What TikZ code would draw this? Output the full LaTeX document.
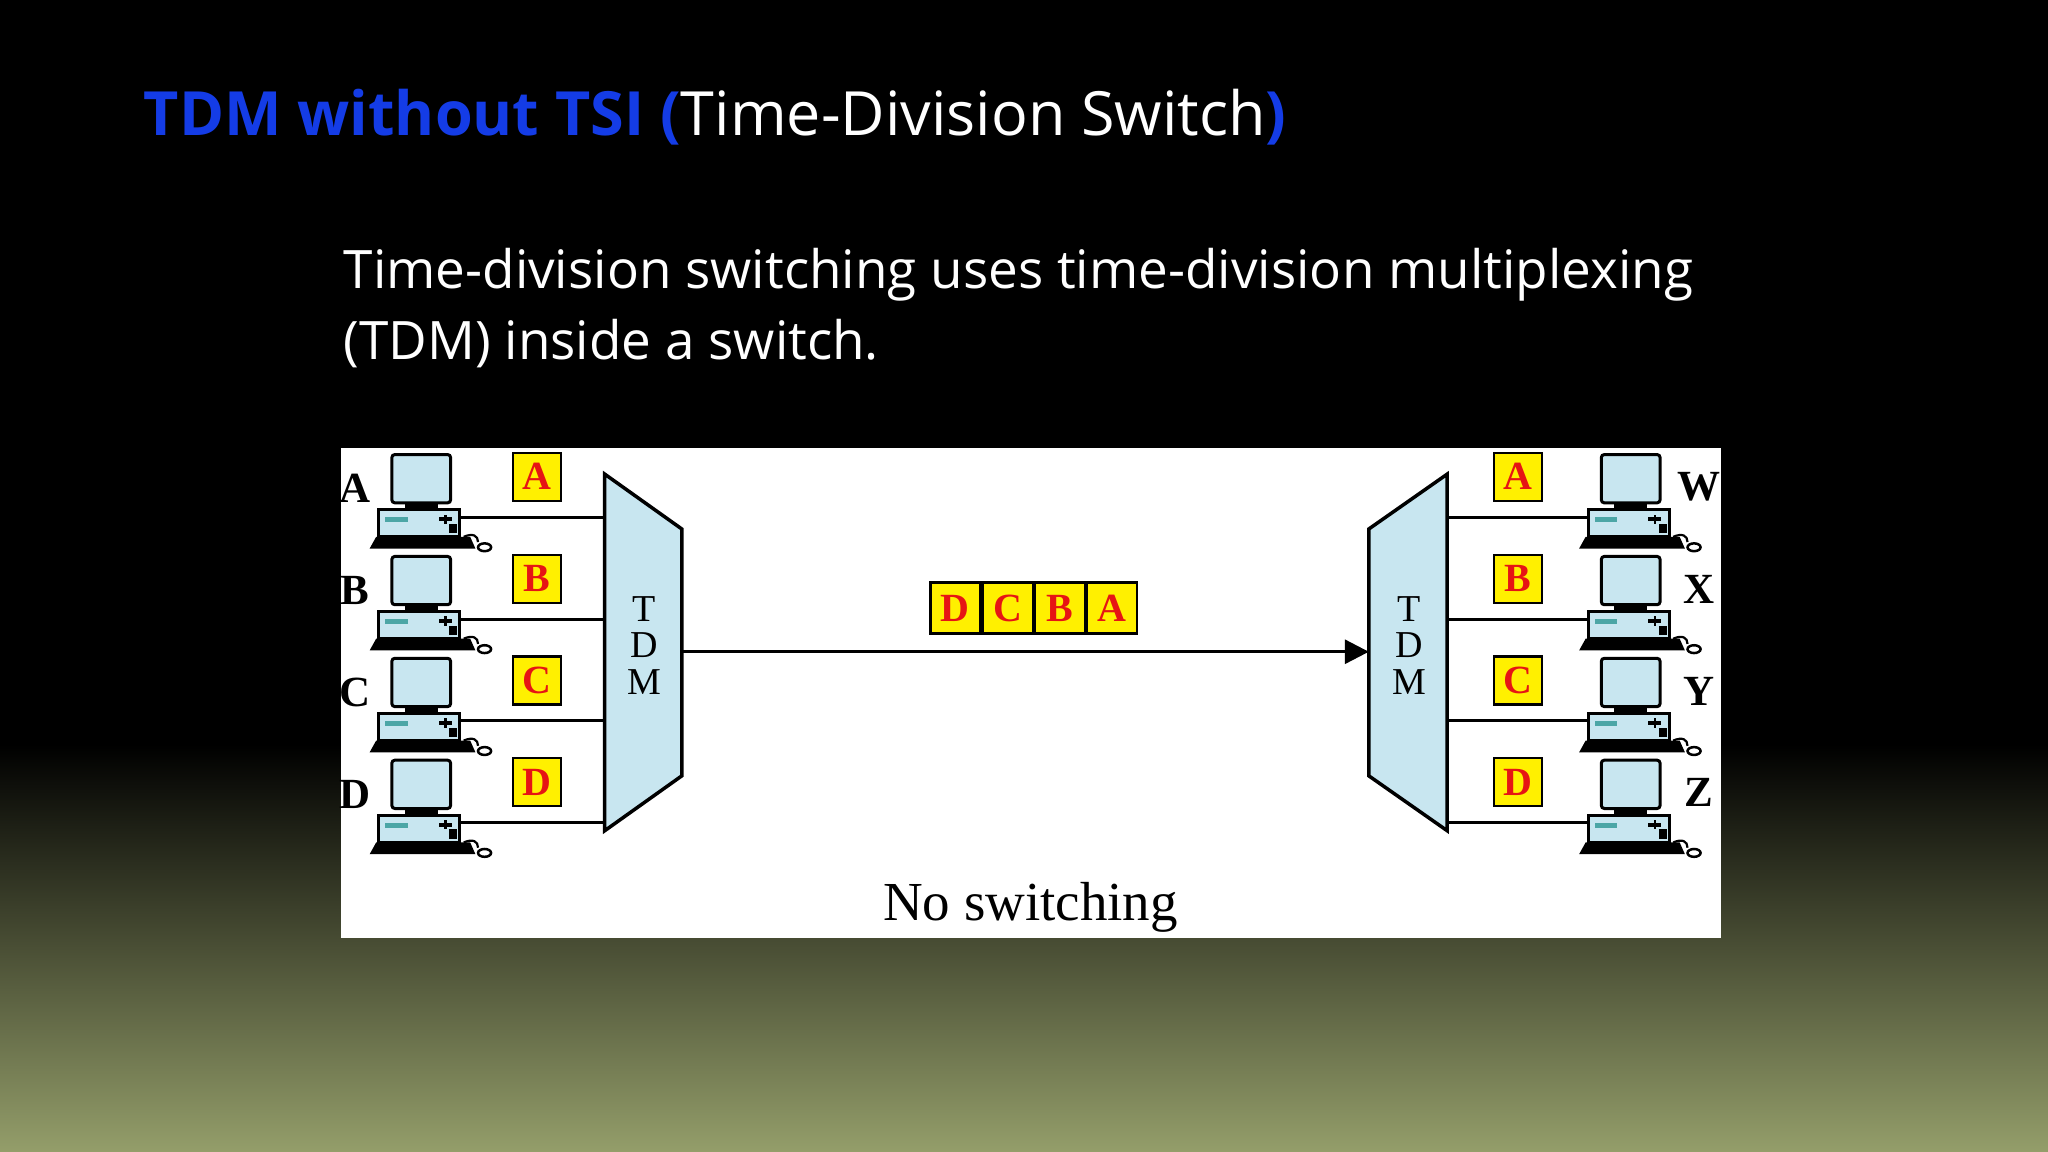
\documentclass[tikz,border=0pt]{standalone}
\usepackage{fontspec}
\setmainfont{Liberation Serif}
\newfontfamily\slidefont{Open Sans}
\usetikzlibrary{arrows.meta}
\definecolor{titleblue}{RGB}{20,60,230}
\definecolor{lblue}{RGB}{200,230,240}
\definecolor{olive}{RGB}{148,158,106}
\definecolor{boxyellow}{RGB}{255,240,0}
\definecolor{boxred}{RGB}{230,20,20}
\tikzset{
  pcbody/.style={draw=black,line width=3pt,fill=lblue},
  lettbox/.style={draw=black,line width=2.2pt,fill=boxyellow,text=boxred,font=\fontsize{40}{42}\selectfont\bfseries,minimum width=48pt,minimum height=48pt,inner sep=0pt},
  pkt/.style={draw=black,line width=2.2pt,fill=boxyellow,text=boxred,font=\fontsize{40}{42}\selectfont\bfseries,minimum width=50pt,minimum height=51pt,inner sep=0pt},
  plabel/.style={font=\fontsize{43}{45}\selectfont\bfseries,inner sep=0pt},
  muxtxt/.style={font=\fontsize{38}{40}\selectfont,inner sep=0pt},
  wire/.style={line width=3pt},
  mux/.style={draw=black,line width=3.5pt,fill=lblue},
  pics/computer/.style={code={
    \draw[pcbody,rounded corners=3pt] (0,0) rectangle (45,37);
    \fill[black] (10,37) rectangle (35,42);
    \draw[pcbody] (-10,42) rectangle (52,63);
    \fill[teal!70] (-5,48) rectangle (12,52);
    \fill[black] (36,48) rectangle (46,51);
    \fill[black] (40,46) rectangle (42,53);
    \fill[black] (44,53) rectangle (50,60);
    \fill[black] (-12,63) -- (60,63) -- (64,72) -- (-17,72) -- cycle;
    \draw[line width=2.2pt] (55,63) .. controls (62,60) and (66,62) .. (66,67);
    \draw[line width=2.5pt] (71,71) ellipse (5 and 3);
  }}
}
\begin{document}
\begin{tikzpicture}[x=1.306pt,y=-1.306pt]
\useasboundingbox (0,0) rectangle (1568,882);
\fill[black] (0,0) rectangle (1568,570);
\shade[top color=black,bottom color=olive] (0,570) rectangle (1568,882);
\node[anchor=west,inner sep=0pt,font=\slidefont\fontsize{61}{63}\selectfont] (title) at (110,90)
  {\textcolor{titleblue}{\bfseries TDM without TSI (}\textcolor{white}{Time-Division Switch}\textcolor{titleblue}{\bfseries )}};
\node[anchor=north west,inner sep=0pt,align=left,text=white,font=\slidefont\fontsize{53}{71}\selectfont] (body) at (263,190)
  {Time-division switching uses time-division multiplexing\\(TDM) inside a switch.};
\fill[white] (261,343) rectangle (1318,718);
\draw[mux] (463,363) -- (522,405) -- (522,594) -- (463,636) -- cycle;
\node[muxtxt] (lT) at (493,466) {T};
\node[muxtxt] (lD) at (493,494) {D};
\node[muxtxt] (lM) at (493,522) {M};
\draw[mux] (1108,363) -- (1048,405) -- (1048,594) -- (1108,636) -- cycle;
\node[muxtxt] (rT) at (1079,466) {T};
\node[muxtxt] (rD) at (1079,494) {D};
\node[muxtxt] (rM) at (1079,522) {M};
\coordinate (lout) at (522,499);
\coordinate (rin) at (1048,499);
\draw[wire,-{Triangle[length=24pt,width=24pt]}] (lout) -- (rin);
\node[pkt] (pD) at (731.5,465.5) {D};
\node[pkt,anchor=west] (pC) at (pD.east) {C};
\node[pkt,anchor=west] (pB) at (pC.east) {B};
\node[pkt,anchor=west] (pA) at (pB.east) {A};
\foreach \L/\R/\i in {A/W/0,B/X/1,C/Y/2,D/Z/3}{
  \pgfmathsetmacro{\yy}{78*\i}
  \begin{scope}[yshift={-1.306*\yy pt}]
    \pic at (300,348) {computer};
    \pic at (1226,348) {computer};
    \node[plabel] (ln\L) at (272,374) {\L};
    \node[plabel] (rn\R) at (1301,373) {\R};
    \node[lettbox] (lb\L) at (411,365) {\L};
    \node[lettbox] (rb\L) at (1162,365) {\L};
    \coordinate (lc\L) at (352,396);
    \coordinate (lm\L) at (463,396);
    \coordinate (rm\L) at (1108,396);
    \coordinate (rc\L) at (1216,396);
    \draw[wire] (lc\L) -- (lm\L);
    \draw[wire] (rm\L) -- (rc\L);
  \end{scope}
}
\node[inner sep=0pt,font=\fontsize{55}{57}\selectfont] (nosw) at (789,695) {No switching};
\end{tikzpicture}
\end{document}
